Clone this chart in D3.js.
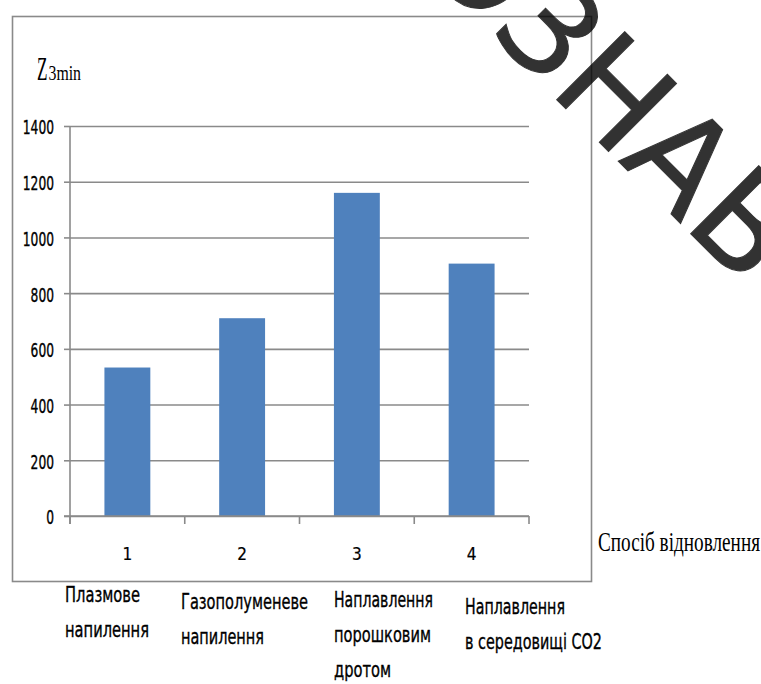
<!DOCTYPE html>
<html>
<head>
<meta charset="utf-8">
<script src="https://cdn.jsdelivr.net/npm/d3@7/dist/d3.min.js"></script>
<style>
  html, body { margin: 0; padding: 0; background: #fff; }
  svg { display: block; }
</style>
</head>
<body>
<script>
// ---- data ----
const categories = ["1", "2", "3", "4"];
const values = [533, 710, 1160, 906];
const yTicks = [0, 200, 400, 600, 800, 1000, 1200, 1400];
const methodLabels = [
  ["Плазмове", "напилення"],
  ["Газополуменеве", "напилення"],
  ["Наплавлення", "порошковим", "дротом"],
  ["Наплавлення", "в середовищі СО2"]
];
const yTitleMain = "Z";
const yTitleSub = "3min";
const xTitle = "Спосіб відновлення";
const watermark = "ОЗНАВ";

// ---- layout ----
const W = 761, H = 684;
const plot = { left: 70, right: 529, top: 126, bottom: 516 };
const narrow = "'Liberation Sans Narrow', 'DejaVu Sans Condensed', 'Liberation Sans', sans-serif";
const serif = "'Liberation Serif', 'DejaVu Serif', serif";

const svg = d3.select("body").append("svg").attr("width", W).attr("height", H);

// outer chart border
svg.append("rect")
  .attr("x", 12.5).attr("y", 16.5).attr("width", 579).attr("height", 565)
  .attr("fill", "#fff").attr("stroke", "#8a8a8a").attr("stroke-width", 1.6);

const x = d3.scaleBand().domain(categories)
  .range([plot.left, plot.right]).paddingInner(0.6).paddingOuter(0.3);
const y = d3.scaleLinear().domain([0, 1400]).range([plot.bottom, plot.top]);

// gridlines
svg.append("g")
  .attr("transform", `translate(${plot.left},0)`)
  .call(d3.axisLeft(y).tickValues(yTicks).tickSize(-(plot.right - plot.left)).tickFormat(""))
  .call(g => g.select(".domain").remove())
  .call(g => g.selectAll("line").attr("stroke", "#8a8a8a").attr("stroke-width", 1.6));

// y axis ticks + labels
const yAxis = svg.append("g")
  .attr("transform", `translate(${plot.left},0)`)
  .call(d3.axisLeft(y).tickValues(yTicks).tickSize(6).tickPadding(10).tickFormat(d3.format("d")));
yAxis.select(".domain").remove();
yAxis.selectAll("line").attr("stroke", "#8a8a8a").attr("stroke-width", 1.6);
yAxis.selectAll("text")
  .attr("font-family", narrow).attr("font-size", 19).attr("fill", "#000")
  .attr("stroke", "#000").attr("stroke-width", 0.35)
  .attr("dy", "0.42em")
  .attr("textLength", d => String(d).length * 7.8)
  .attr("lengthAdjust", "spacingAndGlyphs");

// y axis line
svg.append("line")
  .attr("x1", plot.left).attr("x2", plot.left)
  .attr("y1", plot.top).attr("y2", plot.bottom + 8)
  .attr("stroke", "#8a8a8a").attr("stroke-width", 1.6);

// bars
svg.append("g").selectAll("rect")
  .data(values)
  .join("rect")
  .attr("x", (d, i) => x(categories[i]))
  .attr("width", x.bandwidth())
  .attr("y", d => y(d))
  .attr("height", d => y(0) - y(d))
  .attr("fill", "#4f81bd");

// x axis line & boundary ticks
svg.append("line")
  .attr("x1", plot.left - 6).attr("x2", plot.right)
  .attr("y1", y(0)).attr("y2", y(0))
  .attr("stroke", "#8a8a8a").attr("stroke-width", 1.6);
const boundaries = d3.range(categories.length + 1).map(i => plot.left + i * x.step());
svg.append("g").selectAll("line")
  .data(boundaries)
  .join("line")
  .attr("x1", d => d).attr("x2", d => d)
  .attr("y1", y(0)).attr("y2", y(0) + 8)
  .attr("stroke", "#8a8a8a").attr("stroke-width", 1.6);

// category numbers
svg.append("g").selectAll("text")
  .data(categories)
  .join("text")
  .attr("x", d => x(d) + x.bandwidth() / 2)
  .attr("y", 560)
  .attr("text-anchor", "middle")
  .attr("font-family", narrow).attr("font-size", 17).attr("fill", "#000")
  .attr("stroke", "#000").attr("stroke-width", 0.2)
  .text(d => d);

// y title Z3min
svg.append("text")
  .attr("x", 37).attr("y", 80)
  .attr("font-family", serif).attr("font-size", 34).attr("fill", "#000")
  .attr("textLength", 10.5).attr("lengthAdjust", "spacingAndGlyphs")
  .text(yTitleMain);
svg.append("text")
  .attr("x", 48.5).attr("y", 80)
  .attr("font-family", serif).attr("font-size", 22).attr("fill", "#000")
  .attr("textLength", 32.5).attr("lengthAdjust", "spacingAndGlyphs")
  .text(yTitleSub);

// x title
svg.append("text")
  .attr("x", 598).attr("y", 551)
  .attr("font-family", serif).attr("font-size", 28).attr("fill", "#000")
  .attr("textLength", 162).attr("lengthAdjust", "spacingAndGlyphs")
  .text(xTitle);

// method labels below the chart
const labelLayout = [
  { x: 65, y: 602, w: [75, 84] },
  { x: 181, y: 609, w: [127, 83] },
  { x: 334, y: 607, w: [99, 97, 57] },
  { x: 465, y: 614, w: [100, 137] }
];
const lineH = 35;
methodLabels.forEach((lines, i) => {
  const L = labelLayout[i];
  svg.append("g").selectAll("text")
    .data(lines)
    .join("text")
    .attr("x", L.x)
    .attr("y", (d, j) => L.y + j * lineH)
    .attr("font-family", narrow).attr("font-size", 22).attr("fill", "#000")
    .attr("stroke", "#000").attr("stroke-width", 0.35)
    .attr("textLength", (d, j) => L.w[j]).attr("lengthAdjust", "spacingAndGlyphs")
    .text(d => d);
});

// watermark (diagonal letters)
const wm = svg.append("g").attr("opacity", 0.8);
const fontWM = 132;
const angle = 45;
const rad = angle * Math.PI / 180;
const ux = Math.cos(rad), uy = Math.sin(rad);
const letters = watermark.split("");
const meas = svg.append("text").attr("font-family", "'DejaVu Sans', sans-serif").attr("font-size", fontWM);
const adv = letters.map(c => { meas.text(c); return meas.node().getComputedTextLength(); });
meas.remove();
const anchorIdx = 2;
const anchor = { x: 615, y: 93 };
const cum = [];
let s = 0;
adv.forEach(a => { cum.push(s + a / 2); s += a; });
letters.forEach((c, i) => {
  const d = cum[i] - cum[anchorIdx];
  const cx = anchor.x + d * ux, cy = anchor.y + d * uy;
  wm.append("text")
    .attr("transform", `translate(${cx},${cy}) rotate(${angle})`)
    .attr("text-anchor", "middle")
    .attr("dominant-baseline", "central")
    .attr("font-family", "'DejaVu Sans', sans-serif")
    .attr("font-size", fontWM)
    .attr("fill", "#000")
    .attr("stroke", "#000").attr("stroke-width", 1)
    .text(c);
});
</script>
</body>
</html>
